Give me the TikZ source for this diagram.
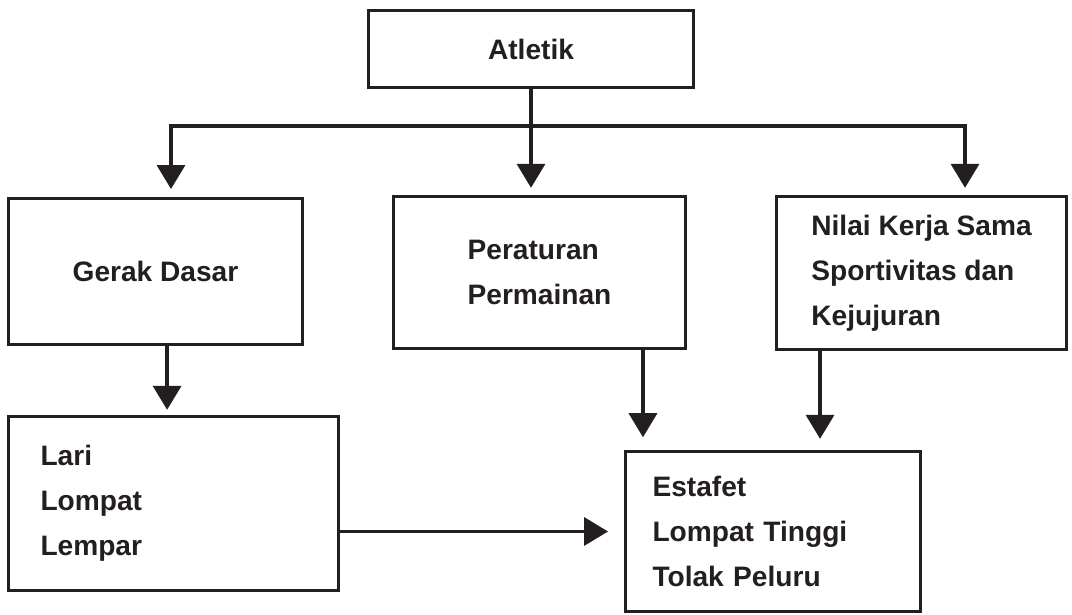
\documentclass[tikz,border=0pt]{standalone}
\usepackage{fontspec}
\setsansfont{Liberation Sans}
\usepackage{tikz}
\usetikzlibrary{arrows.meta, positioning}
\definecolor{inkblack}{RGB}{35,31,32}

\begin{document}
\begin{tikzpicture}[
    box/.style={rectangle, draw=inkblack, line width=2.1pt, fill=white, align=left, text=inkblack, font=\sffamily\bfseries\fontsize{20}{32}\selectfont},
    harrow/.style={-{Triangle[length=0.6cm, width=0.7cm]}, draw=inkblack, line width=2.5pt},
    busarrow/.style={{Triangle[length=0.6cm, width=0.7cm]}-{Triangle[length=0.6cm, width=0.7cm]}, draw=inkblack, line width=2.5pt}
]
\useasboundingbox (0,0) rectangle (26.8,15.35);
\node[box, minimum width=8.125cm, minimum height=1.925cm] (atletik) at (13.275,14.125) {Atletik};
\node[box, minimum width=7.35cm, minimum height=3.65cm] (gerak) at (3.8875,8.5625) {Gerak Dasar};
\node[box, minimum width=7.3cm, minimum height=3.8cm] (peraturan) at (13.4875,8.5375) {Peraturan\\Permainan};
\node[box, minimum width=7.25cm, minimum height=3.825cm] (nilai) at (23.0375,8.525) {Nilai Kerja Sama\\Sportivitas dan\\Kejujuran};
\node[box, inner xsep=0.8cm, text width=6.65cm, minimum height=4.35cm] (lari) at (4.3375,2.7625) {Lari\\Lompat\\Lempar};
\node[box, inner xsep=0.675cm, text width=6.025cm, minimum height=4.0cm] (estafet) at (19.325,2.0625) {Estafet\\Lompat Tinggi\\Tolak Peluru};

\coordinate (bus-left) at (4.275,12.2);
\coordinate (bus-right) at (24.125,12.2);

\draw[harrow, shorten >=0.18cm] (atletik.south) -- (atletik.south |- peraturan.north);
\draw[busarrow, shorten <=0.2cm, shorten >=0.18cm] (bus-left |- gerak.north) -- (bus-left) -- (bus-right) -- (bus-right |- nilai.north);
\draw[harrow, shorten >=0.13cm] ([xshift=0.29cm]gerak.south) -- ([xshift=0.29cm]gerak.south |- lari.north);
\draw[harrow, shorten >=0.32cm] ([xshift=-1.1cm]peraturan.south east) -- ([xshift=-1.1cm]peraturan.south east |- estafet.north);
\draw[harrow, shorten >=0.28cm] ([xshift=1.125cm]nilai.south west) -- ([xshift=1.125cm]nilai.south west |- estafet.north);
\draw[harrow, shorten >=0.4cm] (lari.east |- estafet.west) -- (estafet.west);
\end{tikzpicture}
\end{document}
